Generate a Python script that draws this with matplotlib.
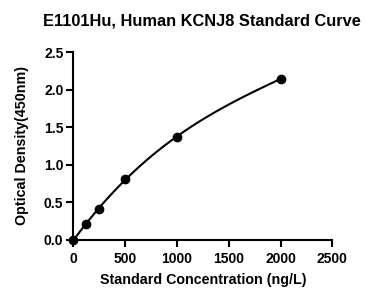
import numpy as np
import matplotlib
matplotlib.use("Agg")
import matplotlib.pyplot as plt

plt.rcParams['font.family'] = ['Liberation Sans', 'DejaVu Sans']
plt.rcParams['font.weight'] = 'bold'

# standard points
conc = [0, 125, 250, 500, 1000, 2000]
od = [0.0, 0.207, 0.416, 0.81, 1.372, 2.142]
xticks = [0, 500, 1000, 1500, 2000, 2500]
yticks = [0.0, 0.5, 1.0, 1.5, 2.0, 2.5]

fig = plt.figure(figsize=(3.66, 2.89), dpi=100)
ax = fig.add_axes([0.2, 0.17, 0.708, 0.65])

# smooth fitted curve
coef = np.polyfit(conc, od, 3)
xs = np.linspace(0, 2000, 200)
ax.plot(xs, np.polyval(coef, xs), color='black', lw=1.5, clip_on=False)
ax.plot(conc, od, 'o', color='black', ms=6, clip_on=False)

ax.set_xlim(0, 2500)
ax.set_ylim(0, 2.5)
ax.set_xticks(xticks)
ax.set_yticks(yticks)
ax.set_yticklabels([f"{v:.1f}" for v in yticks])
for s in ['top', 'right']:
    ax.spines[s].set_visible(False)
for s in ['left', 'bottom']:
    ax.spines[s].set_linewidth(1.5)
ax.tick_params(width=1.5, length=5, labelsize=10, pad=2)
ax.tick_params(axis='x', pad=4)
for lab in ax.get_xticklabels() + ax.get_yticklabels():
    lab.set_fontweight('bold')
ax.set_xlabel("Standard Concentration (ng/L)", fontsize=10.3, fontweight='bold', labelpad=5)
ax.set_ylabel("Optical Density(450nm)", fontsize=10.3, fontweight='bold', labelpad=11)
fig.suptitle("E1101Hu, Human KCNJ8 Standard Curve", fontsize=11.8, fontweight='bold',
             x=0.552, y=0.955)

fig.savefig("out.png", dpi=100)
